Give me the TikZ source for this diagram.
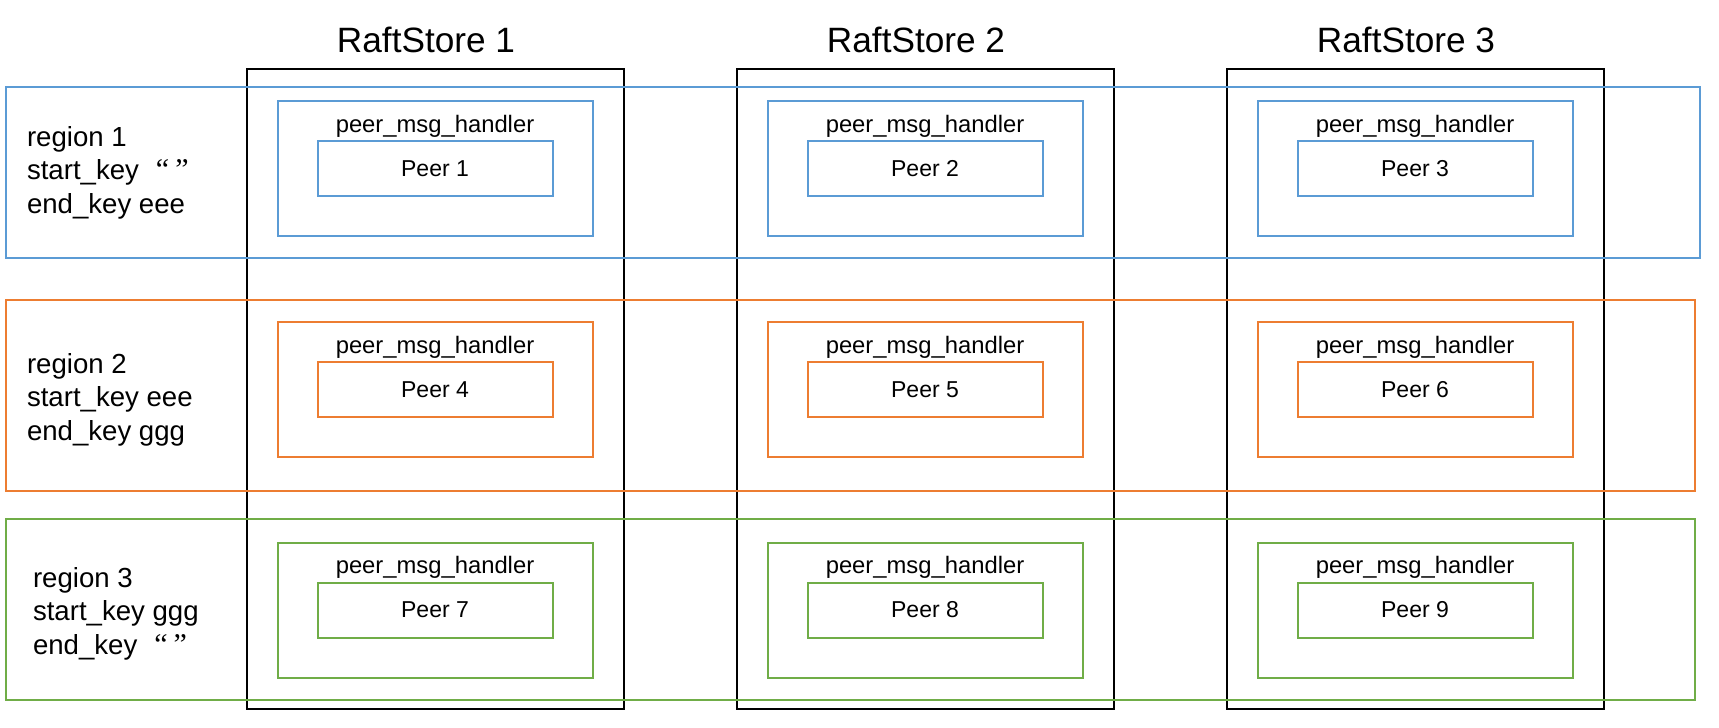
\documentclass[tikz,border=0pt]{standalone}
\usepackage{fontspec}
\setmainfont{Liberation Sans}
\newfontfamily\quotefont{Liberation Serif}
\definecolor{regionblue}{RGB}{91,155,213}
\definecolor{regionorange}{RGB}{237,125,49}
\definecolor{regiongreen}{RGB}{112,173,71}
\newcommand{\emptykey}{\hspace{8.5pt}{\quotefont\fontsize{15}{16}\selectfont “\hspace{3pt}”}}

\begin{document}
\begin{tikzpicture}[
        x=0.5pt, y=-0.5pt,
        every node/.style = {inner sep=0pt, outer sep=0pt, line width=1pt},
        store/.style = {rectangle, draw=black, minimum width=188.5pt, minimum height=320pt},
        storetitle/.style = {anchor=base, font=\fontsize{17.6}{20}\selectfont},
        region/.style = {rectangle, draw=#1},
        regiontext/.style = {anchor=west, align=left, font=\fontsize{13.8}{16.75}\selectfont},
        handler/.style = {rectangle, draw=#1, minimum width=157.5pt, minimum height=67.5pt},
        handlertext/.style = {anchor=base, font=\fontsize{11.9}{14}\selectfont},
        peer/.style = {rectangle, draw=#1, minimum width=117.5pt, minimum height=27.5pt, font=\fontsize{11.5}{14}\selectfont}
        ]
        \useasboundingbox (0,0) rectangle (1719,728);

        % the three stores
        \node[store] (s1) at (435,389) {};
        \node[store] (s2) at (925,389) {};
        \node[store] (s3) at (1415,389) {};
        \node[storetitle] (t1) at ([xshift=-4.5pt, yshift=8.5pt]s1.north) {RaftStore 1};
        \node[storetitle] (t2) at ([xshift=-4.5pt, yshift=8.5pt]s2.north) {RaftStore 2};
        \node[storetitle] (t3) at ([xshift=-4.5pt, yshift=8.5pt]s3.north) {RaftStore 3};

        % regions across the stores
        \node[region=regionblue, minimum width=847pt, minimum height=85.5pt] (r1) at (853,172.5) {};
        \node[region=regionorange, minimum width=844.5pt, minimum height=95.5pt] (r2) at (850.5,395.5) {};
        \node[region=regiongreen, minimum width=844.5pt, minimum height=90.5pt] (r3) at (850.5,609.5) {};
        \node[regiontext] (r1t) at ([xshift=10.5pt]r1.west) {region 1\\start\_key\emptykey\\end\_key eee};
        \node[regiontext] (r2t) at ([xshift=10.5pt, yshift=-2pt]r2.west) {region 2\\start\_key eee\\end\_key ggg};
        \node[regiontext] (r3t) at ([xshift=13.5pt, yshift=-2pt]r3.west) {region 3\\start\_key ggg\\end\_key\emptykey};

        % region 1
        \node[handler=regionblue] (h1) at (435,168.5) {};
        \node[handler=regionblue] (h2) at (925,168.5) {};
        \node[handler=regionblue] (h3) at (1415,168.5) {};
        \node[handlertext] (h1t) at ([yshift=-15.5pt]h1.north) {peer\_msg\_handler};
        \node[handlertext] (h2t) at ([yshift=-15.5pt]h2.north) {peer\_msg\_handler};
        \node[handlertext] (h3t) at ([yshift=-15.5pt]h3.north) {peer\_msg\_handler};
        \node[peer=regionblue] (p1) at (h1) {Peer 1};
        \node[peer=regionblue] (p2) at (h2) {Peer 2};
        \node[peer=regionblue] (p3) at (h3) {Peer 3};

        % region 2
        \node[handler=regionorange] (h4) at (435,389.5) {};
        \node[handler=regionorange] (h5) at (925,389.5) {};
        \node[handler=regionorange] (h6) at (1415,389.5) {};
        \node[handlertext] (h4t) at ([yshift=-15.5pt]h4.north) {peer\_msg\_handler};
        \node[handlertext] (h5t) at ([yshift=-15.5pt]h5.north) {peer\_msg\_handler};
        \node[handlertext] (h6t) at ([yshift=-15.5pt]h6.north) {peer\_msg\_handler};
        \node[peer=regionorange] (p4) at (h4) {Peer 4};
        \node[peer=regionorange] (p5) at (h5) {Peer 5};
        \node[peer=regionorange] (p6) at (h6) {Peer 6};

        % region 3
        \node[handler=regiongreen] (h7) at (435,610) {};
        \node[handler=regiongreen] (h8) at (925,610) {};
        \node[handler=regiongreen] (h9) at (1415,610) {};
        \node[handlertext] (h7t) at ([yshift=-15.5pt]h7.north) {peer\_msg\_handler};
        \node[handlertext] (h8t) at ([yshift=-15.5pt]h8.north) {peer\_msg\_handler};
        \node[handlertext] (h9t) at ([yshift=-15.5pt]h9.north) {peer\_msg\_handler};
        \node[peer=regiongreen] (p7) at (h7) {Peer 7};
        \node[peer=regiongreen] (p8) at (h8) {Peer 8};
        \node[peer=regiongreen] (p9) at (h9) {Peer 9};
    \end{tikzpicture}
\end{document}
